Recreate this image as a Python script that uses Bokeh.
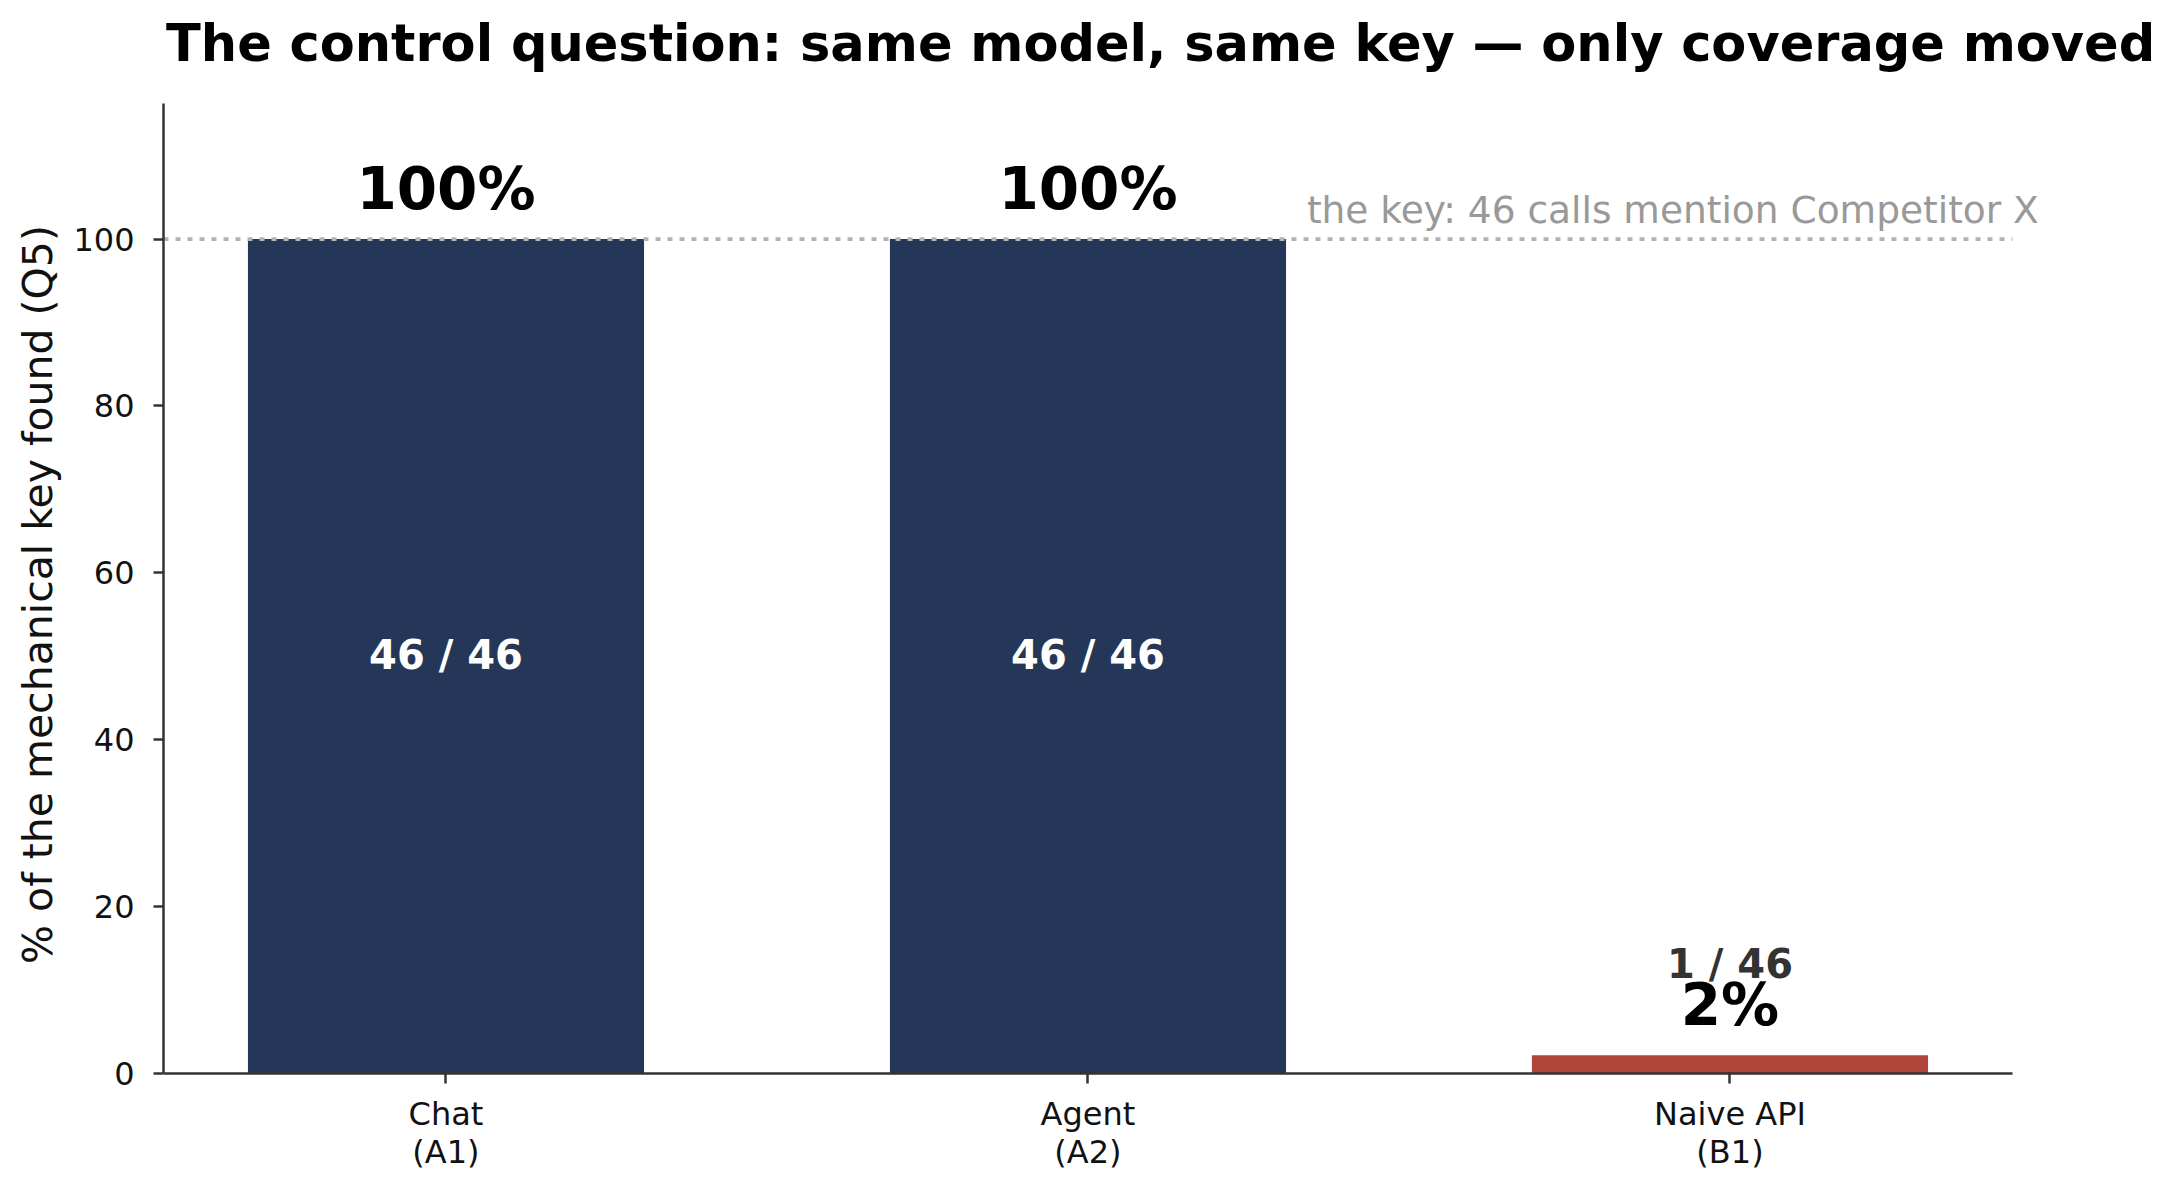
from bokeh.plotting import figure
from bokeh.models import Range1d, FixedTicker, Label, ColumnDataSource
from bokeh.core.properties import value
from bokeh.embed import file_html
from bokeh.resources import INLINE

# ---- data ----
categories = ["Chat\n(A1)", "Agent\n(A2)", "Naive API\n(B1)"]
found = [46, 46, 1]
total = [46, 46, 46]
bar_colors = ["#253759", "#253759", "#b1453a"]
pct_labels = ["100%", "100%", "2%"]
count_labels = ["46 / 46", "46 / 46", "1 / 46"]
y_ticks = [0, 20, 40, 60, 80, 100]
key_level = 100
key_note = "the key: 46 calls mention Competitor X"
title_text = "The control question: same model, same key \u2014 only coverage moved"
y_title = "% of the mechanical key found (Q5)"

pct = [f * 100.0 / t for f, t in zip(found, total)]
xs = list(range(len(categories)))

FONT = "DejaVu Sans"

# ---- geometry (page has no margin) ----
W, H = 2182, 1194
X0, X1 = -0.44, 2.44            # x spine extent
Y1 = 116.2                      # top of y spine
PX_PER_X = 642.0
PX_PER_Y = 8.344
BORDER_L = 163
ZERO_PX = 1073                  # pixel row of y = 0
FRAME_W = W - BORDER_L
FRAME_H = 1188
X_END = X0 + FRAME_W / PX_PER_X
Y_END = ZERO_PX / PX_PER_Y
Y_START = -(FRAME_H - ZERO_PX) / PX_PER_Y


def corr(fs):
    # compensate renderer baseline offset (in data units)
    return 0.37 * fs / PX_PER_Y


p = figure(frame_width=FRAME_W, frame_height=FRAME_H,
           min_border_left=BORDER_L, min_border_right=0,
           min_border_top=0, min_border_bottom=H - FRAME_H,
           x_range=Range1d(X0, X_END), y_range=Range1d(Y_START, Y_END),
           output_backend="svg", toolbar_location=None,
           background_fill_color="white", border_fill_color="white")
p.outline_line_color = None
p.xgrid.visible = False
p.ygrid.visible = False

# bars
src = ColumnDataSource(dict(x=xs, top=pct, color=bar_colors))
p.vbar(x="x", top="top", width=0.617, bottom=0, source=src,
       fill_color="color", line_color=None)

# dotted key line (over the bars)
p.segment(x0=[X0], y0=[key_level], x1=[X1], y1=[key_level],
          line_color="#b3b3b3", line_width=3.8, line_dash="5 7")

# percent labels above bars
FS_PCT = 58
src_pct = ColumnDataSource(dict(x=xs, y=[v + 3.45 + corr(FS_PCT) for v in pct],
                                t=pct_labels))
p.text(x="x", y="y", text="t", source=src_pct, text_font=value(FONT),
       text_font_size=f"{FS_PCT}px", text_font_style="bold",
       text_color="#000000", text_align="center", text_baseline="alphabetic")

# count labels: inside big bars, above small bars
FS_CNT = 40
ins = [i for i, v in enumerate(pct) if v > 50]
outs = [i for i, v in enumerate(pct) if v <= 50]
src_in = ColumnDataSource(dict(x=[xs[i] for i in ins],
                               y=[pct[i] / 2 - 1.6 + corr(FS_CNT) for i in ins],
                               t=[count_labels[i] for i in ins]))
p.text(x="x", y="y", text="t", source=src_in, text_font=value(FONT),
       text_font_size=f"{FS_CNT}px", text_font_style="bold",
       text_color="#ffffff", text_align="center", text_baseline="alphabetic")
src_out = ColumnDataSource(dict(x=[xs[i] for i in outs],
                                y=[pct[i] + 9.2 + corr(FS_CNT) for i in outs],
                                t=[count_labels[i] for i in outs]))
p.text(x="x", y="y", text="t", source=src_out, text_font=value(FONT),
       text_font_size=f"{FS_CNT}px", text_font_style="bold",
       text_color="#333333", text_align="center", text_baseline="alphabetic")

# key annotation
FS_NOTE = 37.5
p.add_layout(Label(x=1.341, y=101.85 + corr(FS_NOTE), text=key_note,
                   text_font=FONT, text_font_size=f"{FS_NOTE}px",
                   text_color="#999999", text_align="left",
                   text_baseline="alphabetic"))

# title
FS_TITLE = 51
p.add_layout(Label(x=X0 + 0.004, y=121.15 + corr(FS_TITLE), text=title_text,
                   text_font=FONT, text_font_size=f"{FS_TITLE}px",
                   text_font_style="bold", text_color="#000000",
                   text_align="left", text_baseline="alphabetic"))

# axes
for ax in (p.xaxis[0], p.yaxis[0]):
    ax.axis_line_color = "#333333"
    ax.axis_line_width = 2.5
    ax.major_tick_line_color = "#333333"
    ax.major_tick_line_width = 2.5
    ax.major_tick_out = 10
    ax.major_tick_in = 0
    ax.minor_tick_line_color = None
    ax.major_label_text_font = FONT
    ax.major_label_text_font_size = "32px"
    ax.major_label_text_color = "#111111"

p.xaxis.fixed_location = 0
p.xaxis.bounds = (X0, X1)
p.xaxis.major_label_standoff = 11
p.xaxis.ticker = FixedTicker(ticks=xs)
p.xaxis.major_label_overrides = {i: c for i, c in enumerate(categories)}
p.xaxis.major_label_text_line_height = 1.0

p.yaxis.bounds = (0, Y1)
p.yaxis.major_label_standoff = 19
p.yaxis.ticker = FixedTicker(ticks=y_ticks)
p.yaxis.axis_label = y_title
p.yaxis.axis_label_text_font = FONT
p.yaxis.axis_label_text_font_size = "41px"
p.yaxis.axis_label_text_font_style = "normal"
p.yaxis.axis_label_text_color = "#111111"
p.yaxis.axis_label_standoff = 8

open("out.html", "w").write(file_html(p, INLINE))
